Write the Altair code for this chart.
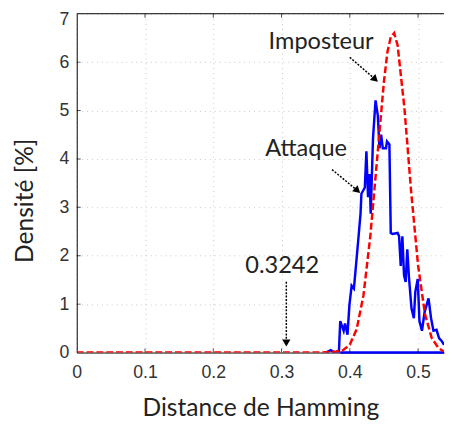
import altair as alt
import pandas as pd

# ---- data ----
imp_x = [0.0, 0.36, 0.37, 0.38, 0.39, 0.40, 0.41, 0.42, 0.43, 0.44, 0.45, 0.455, 0.46, 0.465,
         0.47, 0.48, 0.49, 0.50, 0.51, 0.52, 0.53, 0.538]
imp_y = [0.0, 0.0, 0.01, 0.02, 0.05, 0.16, 0.48, 1.18, 2.4, 4.0, 5.6, 6.2, 6.52, 6.6,
         6.35, 5.05, 3.3, 1.8, 0.8, 0.3, 0.09, 0.02]

att_x = [0.365, 0.372, 0.378, 0.384, 0.386, 0.391, 0.393, 0.3966, 0.3994, 0.4027, 0.406, 0.409,
         0.4124, 0.4157, 0.417, 0.422, 0.4243, 0.4267, 0.429, 0.4306, 0.434, 0.4377, 0.441,
         0.4435, 0.4459, 0.4483, 0.453, 0.4545, 0.458, 0.460, 0.4626, 0.470, 0.4722, 0.4746,
         0.477, 0.4794, 0.4818, 0.4842, 0.4866, 0.4904, 0.4938, 0.496, 0.4995, 0.502, 0.5057,
         0.5096, 0.5153, 0.519, 0.5225, 0.527, 0.5307, 0.5345, 0.538]
att_y = [0.0, 0.05, 0.0, 0.0, 0.65, 0.45, 0.6, 0.37, 0.98, 1.38, 1.32, 1.79,
         2.33, 2.87, 3.28, 3.41, 4.16, 3.21, 3.69, 2.87, 4.43, 5.21, 4.9,
         4.22, 4.5, 4.22, 4.22, 4.36, 4.3, 2.47, 2.45, 2.47, 2.4, 1.79,
         2.4, 1.6, 1.46, 2.13, 1.56, 0.91, 0.71, 1.26, 1.52, 0.65, 0.45,
         0.84, 1.12, 0.71, 0.45, 0.47, 0.30, 0.24, 0.16]

x_ticks = [0, 0.1, 0.2, 0.3, 0.4, 0.5]
y_ticks = [0, 1, 2, 3, 4, 5, 6, 7]
x_max = 0.538
y_max = 7

labels = ["Imposteur", "Attaque", "0.3242"]
label_x = [0.358, 0.336, 0.301]
label_y = [6.42, 4.2, 1.78]
arrow_x1 = [0.400, 0.374, 0.307]
arrow_y1 = [6.10, 3.78, 1.46]
arrow_x2 = [0.436, 0.410, 0.307]
arrow_y2 = [5.66, 3.36, 0.22]
arrow_angle = [133, 132, 180]

FONT = "Lato"
TFONT = "Liberation Sans"

xs = alt.Scale(domain=[0, x_max], nice=False, zero=False)
ys = alt.Scale(domain=[0, y_max], nice=False)

imp = pd.DataFrame({"x": imp_x, "y": imp_y})
att = pd.DataFrame({"x": att_x, "y": att_y})
ann = pd.DataFrame({"label": labels, "lx": label_x, "ly": label_y,
                    "x1": arrow_x1, "y1": arrow_y1, "x2": arrow_x2, "y2": arrow_y2,
                    "ang": arrow_angle})
xt = pd.DataFrame({"x": x_ticks[1:], "y0": [0] * 5, "y7": [y_max] * 5})
yt = pd.DataFrame({"y": y_ticks[1:-1], "x0": [0] * 6})
frame = pd.DataFrame({"x": [0], "x2": [x_max], "y": [y_max], "yb": [0], "xb": [0.386]})

x_axis = alt.Axis(values=x_ticks, format="~g", tickSize=0, domainColor="black", domainWidth=1,
                  gridDash=[1, 4], gridColor="#c8c8c8", labelFont=TFONT, labelFontSize=18,
                  labelColor="#333", labelPadding=11, title="Distance de Hamming",
                  titleFont=FONT, titleFontSize=25, titleFontWeight="normal", titleColor="#222",
                  titleY=64, titleBaseline="alphabetic", labelFlush=False)
y_axis = alt.Axis(values=y_ticks, tickSize=0, domainColor="black", domainWidth=1,
                  gridDash=[1, 4], gridColor="#c8c8c8", labelFont=TFONT, labelFontSize=18,
                  labelColor="#333", labelPadding=8, title="Densité [%]",
                  labelBaseline={"condition": {"test": "datum.value == 7", "value": "top"},
                                 "value": "middle"},
                  labelOffset={"condition": {"test": "datum.value == 7", "value": -3},
                               "value": 0},
                  titleFont=FONT, titleFontSize=25, titleFontWeight="normal", titleColor="#222",
                  titleX=-53, titleY=190, titleAngle=270, titleBaseline="middle",
                  titleAlign="center", labelFlush=False)

base_rule = alt.Chart(frame).mark_rule(color="#0000ff", strokeWidth=2.5).encode(
    x=alt.X("xb:Q", scale=xs, axis=x_axis), x2="x2:Q", y=alt.Y("yb:Q", scale=ys, axis=y_axis))
top_rule = alt.Chart(frame).mark_rule(color="black", strokeWidth=1).encode(
    x=alt.X("x:Q", scale=xs), x2="x2:Q", y=alt.Y("y:Q", scale=ys))

att_line = alt.Chart(att).mark_line(color="#0000ff", strokeWidth=2.5, clip=True).encode(
    x=alt.X("x:Q", scale=xs), y=alt.Y("y:Q", scale=ys))
imp_line = alt.Chart(imp).mark_line(color="#ff0000", strokeWidth=2.5, strokeDash=[7, 3],
                                    clip=True).encode(
    x=alt.X("x:Q", scale=xs), y=alt.Y("y:Q", scale=ys))

xtick_b = alt.Chart(xt).mark_tick(orient="vertical", size=8, thickness=1, color="black",
                                  clip=True).encode(x=alt.X("x:Q", scale=xs), y=alt.Y("y0:Q", scale=ys))
xtick_t = alt.Chart(xt).mark_tick(orient="vertical", size=8, thickness=1, color="black",
                                  clip=True).encode(x=alt.X("x:Q", scale=xs), y=alt.Y("y7:Q", scale=ys))
ytick = alt.Chart(yt).mark_tick(orient="horizontal", size=8, thickness=1, color="black",
                                clip=True).encode(x=alt.X("x0:Q", scale=xs), y=alt.Y("y:Q", scale=ys))

arrows = alt.Chart(ann).mark_rule(color="black", strokeWidth=1.5, strokeDash=[2, 1.5]).encode(
    x=alt.X("x1:Q", scale=xs), y=alt.Y("y1:Q", scale=ys), x2="x2:Q", y2="y2:Q")
heads = alt.Chart(ann).mark_point(shape="triangle", filled=True, color="black", opacity=1,
                                  size=70).encode(
    x=alt.X("x2:Q", scale=xs), y=alt.Y("y2:Q", scale=ys), angle=alt.Angle("ang:Q", scale=None))
texts = alt.Chart(ann).mark_text(font=FONT, fontSize=24, color="#222", align="center",
                                 baseline="middle").encode(
    x=alt.X("lx:Q", scale=xs), y=alt.Y("ly:Q", scale=ys), text="label:N")

chart = alt.layer(base_rule, top_rule, xtick_b, xtick_t, ytick, att_line, imp_line,
                  arrows, heads, texts).properties(
    width=374, height=345,
    autosize=alt.AutoSizeParams(type="none"),
    padding={"left": 70, "top": 2, "right": 1, "bottom": 72},
).configure_view(stroke=None).configure_axis(grid=True)

chart.save("out.html", embed_options={"renderer": "svg", "actions": False})
